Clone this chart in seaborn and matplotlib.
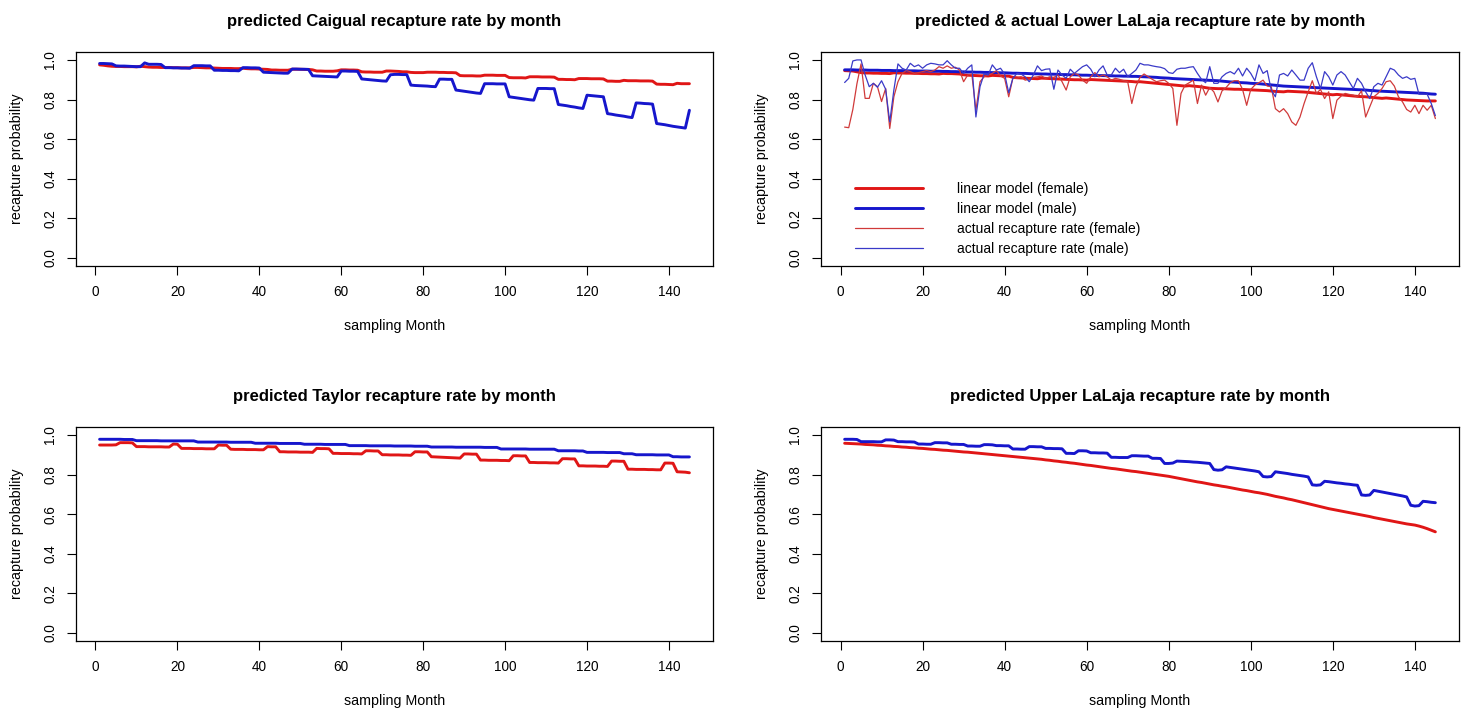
import matplotlib
matplotlib.use("Agg")
import matplotlib.pyplot as plt
import seaborn as sns
import pandas as pd
from matplotlib.lines import Line2D

months = list(range(1, 146))

caigual_female = [
    0.975, 0.973, 0.970, 0.968,
    0.967, 0.967, 0.966, 0.966, 0.966, 0.965, 0.968, 0.966,
    0.964, 0.963, 0.963, 0.962, 0.962, 0.962, 0.961, 0.961, 0.960, 0.960, 0.960, 0.962, 0.962, 0.961, 0.960, 0.960, 0.959,
    0.958, 0.957, 0.957, 0.957, 0.956, 0.956, 0.958,
    0.956, 0.955, 0.955, 0.954, 0.953, 0.952,
    0.949, 0.949, 0.948, 0.948, 0.948,
    0.953, 0.953, 0.953, 0.952, 0.952, 0.950,
    0.944, 0.944, 0.943, 0.943, 0.943, 0.945,
    0.950, 0.950, 0.949, 0.949, 0.948, 0.940,
    0.939, 0.939, 0.938, 0.938, 0.938,
    0.944, 0.944, 0.943, 0.942,
    0.940, 0.940, 0.937, 0.936,
    0.936, 0.936, 0.938, 0.938, 0.938, 0.937, 0.937, 0.936, 0.936, 0.935,
    0.921, 0.920, 0.920, 0.920, 0.919, 0.919,
    0.923, 0.923, 0.923, 0.922, 0.922, 0.922,
    0.911, 0.910, 0.910, 0.910, 0.909,
    0.915, 0.915, 0.915, 0.914, 0.914, 0.914, 0.913,
    0.902, 0.902, 0.901, 0.901, 0.900,
    0.906, 0.906, 0.906, 0.905, 0.905, 0.905, 0.904,
    0.893, 0.893, 0.892, 0.892, 0.897, 0.895,
    0.895, 0.895, 0.894, 0.894, 0.894, 0.893,
    0.878, 0.877, 0.877, 0.876, 0.875,
    0.882, 0.880, 0.880, 0.880,
]

caigual_male = [
    0.982, 0.982, 0.981, 0.980,
    0.970, 0.969, 0.969, 0.968, 0.967,
    0.966, 0.966, 0.985,
    0.978, 0.978, 0.978, 0.977,
    0.961, 0.961, 0.960, 0.960, 0.959, 0.959, 0.958,
    0.971, 0.971, 0.971, 0.970, 0.970,
    0.948, 0.948, 0.947, 0.947, 0.946, 0.946, 0.945,
    0.961, 0.961, 0.960, 0.960, 0.959,
    0.938, 0.937, 0.936, 0.935, 0.934, 0.933, 0.933,
    0.954, 0.954, 0.953, 0.953, 0.952,
    0.920, 0.919, 0.918, 0.917, 0.916, 0.915, 0.914,
    0.944, 0.944, 0.943, 0.943, 0.942,
    0.904, 0.902, 0.900, 0.898, 0.896, 0.894, 0.893,
    0.925, 0.927, 0.927, 0.926, 0.926,
    0.873, 0.871, 0.870, 0.869, 0.868, 0.866, 0.865,
    0.903, 0.903, 0.902, 0.902,
    0.848, 0.845, 0.842, 0.839, 0.836, 0.833, 0.831,
    0.880, 0.880, 0.880, 0.879, 0.879, 0.879,
    0.814, 0.811, 0.808, 0.805, 0.802, 0.799, 0.797,
    0.856, 0.856, 0.856, 0.855, 0.855,
    0.775, 0.772, 0.769, 0.765, 0.762, 0.758, 0.755,
    0.822, 0.820, 0.818, 0.816, 0.814,
    0.729, 0.726, 0.722, 0.719, 0.716, 0.712, 0.709,
    0.783, 0.782, 0.780, 0.779, 0.777,
    0.679, 0.676, 0.673, 0.669, 0.665, 0.662, 0.659, 0.656,
    0.746,
]

lower_female_model = [
    0.946, 0.945, 0.944, 0.940, 0.936, 0.934, 0.934, 0.933, 0.933, 0.932, 0.932, 0.931,
    0.935, 0.934, 0.934, 0.933, 0.933, 0.932, 0.932, 0.931, 0.931, 0.930, 0.930, 0.929,
    0.932, 0.931, 0.931, 0.930, 0.929, 0.925, 0.923, 0.922, 0.921, 0.920, 0.920, 0.919,
    0.922, 0.921, 0.920, 0.919, 0.918, 0.912, 0.910, 0.909, 0.908, 0.907, 0.906, 0.905,
    0.908, 0.907, 0.906, 0.905, 0.904, 0.903, 0.902, 0.901, 0.900, 0.900, 0.899, 0.898,
    0.901, 0.900, 0.899, 0.898, 0.897, 0.896, 0.895, 0.894, 0.893, 0.892, 0.891, 0.889,
    0.890, 0.888, 0.886, 0.884, 0.882, 0.880, 0.878, 0.876, 0.874, 0.872, 0.870, 0.868,
    0.870, 0.868, 0.866, 0.864, 0.860, 0.857, 0.856, 0.855, 0.855, 0.854, 0.853, 0.852,
    0.852, 0.851, 0.850, 0.849, 0.848, 0.847, 0.846, 0.845, 0.843, 0.841, 0.840, 0.839,
    0.842, 0.841, 0.840, 0.839, 0.838, 0.836, 0.834, 0.832, 0.830, 0.828, 0.826, 0.824,
    0.826, 0.824, 0.822, 0.820, 0.818, 0.816, 0.815, 0.814, 0.812, 0.810, 0.808, 0.806,
    0.808, 0.806, 0.804, 0.802, 0.800, 0.798, 0.797, 0.796, 0.795, 0.794, 0.793, 0.793, 0.793,
]

lower_male_model = [
    0.950, 0.950, 0.950, 0.949, 0.949, 0.949, 0.948, 0.948, 0.948, 0.947, 0.947, 0.947,
    0.946, 0.946, 0.946, 0.945, 0.945, 0.945, 0.944, 0.944, 0.944, 0.943, 0.943, 0.943,
    0.942, 0.942, 0.941, 0.941, 0.940, 0.940, 0.939, 0.939, 0.938, 0.938, 0.937, 0.937,
    0.936, 0.936, 0.935, 0.935, 0.934, 0.933, 0.933, 0.932, 0.932, 0.931, 0.930, 0.930,
    0.929, 0.929, 0.928, 0.928, 0.927, 0.926, 0.926, 0.925, 0.925, 0.924, 0.923, 0.923,
    0.922, 0.922, 0.921, 0.921, 0.920, 0.920, 0.919, 0.919, 0.918, 0.918, 0.917, 0.917,
    0.916, 0.915, 0.914, 0.913, 0.912, 0.910, 0.909, 0.908, 0.906, 0.905, 0.904, 0.903,
    0.902, 0.901, 0.900, 0.899, 0.898, 0.897, 0.896, 0.895, 0.893, 0.891, 0.889, 0.888,
    0.886, 0.885, 0.884, 0.882, 0.881, 0.880, 0.878, 0.876, 0.874, 0.872, 0.870, 0.868,
    0.867, 0.866, 0.865, 0.864, 0.863, 0.862, 0.861, 0.860, 0.859, 0.858, 0.857, 0.856,
    0.855, 0.854, 0.853, 0.852, 0.851, 0.850, 0.849, 0.848, 0.846, 0.845, 0.843, 0.842,
    0.841, 0.840, 0.839, 0.838, 0.837, 0.836, 0.835, 0.834, 0.833, 0.832, 0.830, 0.828, 0.827,
]

lower_female_actual = [
    0.661, 0.658, 0.750, 0.880, 0.980, 0.806, 0.806, 0.882, 0.865, 0.790, 0.856, 0.654,
    0.814, 0.890, 0.932, 0.946, 0.941, 0.932, 0.936, 0.941, 0.946, 0.941, 0.949, 0.966,
    0.958, 0.970, 0.958, 0.963, 0.949, 0.890, 0.924, 0.929, 0.746, 0.890, 0.915, 0.924,
    0.932, 0.946, 0.919, 0.907, 0.814, 0.907, 0.907, 0.915, 0.898, 0.902, 0.912, 0.915,
    0.919, 0.907, 0.915, 0.912, 0.924, 0.890, 0.848, 0.915, 0.932, 0.924, 0.898, 0.882,
    0.915, 0.936, 0.915, 0.924, 0.915, 0.898, 0.907, 0.902, 0.895, 0.890, 0.780, 0.865,
    0.912, 0.929, 0.915, 0.902, 0.890, 0.895, 0.898, 0.882, 0.856, 0.670, 0.831, 0.873,
    0.885, 0.898, 0.780, 0.873, 0.822, 0.861, 0.839, 0.788, 0.844, 0.861, 0.885, 0.895,
    0.895, 0.851, 0.771, 0.851, 0.873, 0.885, 0.898, 0.868, 0.865, 0.754, 0.737, 0.754,
    0.729, 0.687, 0.670, 0.712, 0.780, 0.839, 0.895, 0.831, 0.851, 0.805, 0.839, 0.704,
    0.797, 0.817, 0.831, 0.826, 0.822, 0.814, 0.844, 0.712, 0.763, 0.814, 0.831, 0.856,
    0.890, 0.895, 0.868, 0.814, 0.788, 0.750, 0.737, 0.771, 0.729, 0.771, 0.746, 0.771, 0.704,
]

lower_male_actual = [
    0.886, 0.907, 0.995, 1.000, 1.000, 0.924, 0.865, 0.882, 0.862, 0.895, 0.852, 0.687,
    0.848, 0.980, 0.958, 0.949, 0.983, 0.966, 0.975, 0.958, 0.975, 0.983, 0.980, 0.975,
    0.975, 0.996, 0.975, 0.958, 0.958, 0.932, 0.958, 0.975, 0.712, 0.865, 0.929, 0.924,
    0.975, 0.949, 0.958, 0.929, 0.834, 0.907, 0.932, 0.929, 0.915, 0.890, 0.924, 0.970,
    0.946, 0.953, 0.955, 0.852, 0.949, 0.924, 0.907, 0.953, 0.932, 0.949, 0.966, 0.975,
    0.953, 0.915, 0.949, 0.970, 0.924, 0.924, 0.958, 0.936, 0.953, 0.915, 0.932, 0.949,
    0.983, 0.975, 0.975, 0.970, 0.966, 0.963, 0.956, 0.936, 0.932, 0.953, 0.958, 0.958,
    0.963, 0.966, 0.932, 0.902, 0.885, 0.966, 0.882, 0.882, 0.915, 0.932, 0.941, 0.929,
    0.958, 0.919, 0.958, 0.932, 0.895, 0.975, 0.932, 0.946, 0.848, 0.814, 0.924, 0.932,
    0.919, 0.949, 0.924, 0.898, 0.898, 0.958, 0.986, 0.915, 0.856, 0.941, 0.915, 0.873,
    0.924, 0.941, 0.924, 0.890, 0.856, 0.907, 0.882, 0.839, 0.805, 0.865, 0.882, 0.873,
    0.915, 0.958, 0.949, 0.924, 0.907, 0.915, 0.902, 0.907, 0.827, 0.827, 0.827, 0.780, 0.719,
]

taylor_female = [
    0.949, 0.949, 0.949, 0.949, 0.950,
    0.961, 0.961, 0.961, 0.960,
    0.941, 0.941, 0.941, 0.940, 0.940, 0.940, 0.940, 0.939, 0.939,
    0.954, 0.953,
    0.932, 0.932, 0.932, 0.931, 0.931, 0.931, 0.930, 0.930, 0.930,
    0.949, 0.948, 0.948,
    0.928, 0.927, 0.927, 0.927, 0.926, 0.926, 0.926, 0.925, 0.925,
    0.941, 0.940, 0.940,
    0.915, 0.915, 0.914, 0.914, 0.914, 0.913, 0.913, 0.913, 0.912,
    0.932, 0.931, 0.931, 0.930,
    0.907, 0.907, 0.906, 0.906, 0.906, 0.905, 0.905, 0.904,
    0.920, 0.920, 0.919, 0.919,
    0.900, 0.900, 0.899, 0.899, 0.899, 0.898, 0.898, 0.897,
    0.915, 0.915, 0.914, 0.914,
    0.890, 0.889, 0.888, 0.887, 0.886, 0.885, 0.884, 0.883,
    0.904, 0.904, 0.903, 0.903,
    0.873, 0.873, 0.872, 0.872, 0.872, 0.871, 0.871, 0.870,
    0.895, 0.895, 0.894, 0.894,
    0.861, 0.861, 0.860, 0.860, 0.860, 0.859, 0.859, 0.858,
    0.880, 0.880, 0.879, 0.879,
    0.844, 0.844, 0.843, 0.843, 0.843, 0.842, 0.842, 0.841,
    0.868, 0.868, 0.867, 0.867,
    0.827, 0.827, 0.826, 0.826, 0.826, 0.825, 0.825, 0.824, 0.824,
    0.858, 0.858, 0.857,
    0.814, 0.813, 0.812, 0.809,
]

taylor_male = [
    0.978, 0.978, 0.978, 0.978, 0.978, 0.978, 0.977, 0.977, 0.977,
    0.971, 0.971, 0.971, 0.971, 0.971, 0.971, 0.970, 0.970, 0.970, 0.970, 0.970, 0.970, 0.970, 0.970, 0.970,
    0.964, 0.964, 0.964, 0.964, 0.964, 0.964, 0.964, 0.964, 0.963, 0.963, 0.963, 0.963, 0.963, 0.963,
    0.958, 0.958, 0.958, 0.958, 0.958, 0.958, 0.957, 0.957, 0.957, 0.957, 0.957, 0.957,
    0.953, 0.953, 0.953, 0.953, 0.953, 0.952, 0.952, 0.952, 0.952, 0.952, 0.952,
    0.946, 0.946, 0.946, 0.946, 0.946, 0.945, 0.945, 0.945, 0.945, 0.945, 0.945,
    0.944, 0.944, 0.944, 0.944, 0.944, 0.943, 0.943, 0.943, 0.943,
    0.939, 0.939, 0.939, 0.939, 0.939, 0.939, 0.938, 0.938, 0.938, 0.938, 0.938, 0.938, 0.938, 0.937, 0.937, 0.937, 0.937,
    0.929, 0.929, 0.929, 0.929, 0.929, 0.929, 0.929, 0.928, 0.928, 0.928, 0.928, 0.928, 0.928, 0.928,
    0.920, 0.920, 0.920, 0.920, 0.920, 0.919, 0.919,
    0.912, 0.912, 0.912, 0.912, 0.912, 0.911, 0.911, 0.911, 0.911,
    0.905, 0.905, 0.905,
    0.900, 0.900, 0.900, 0.900, 0.900, 0.899, 0.899, 0.899, 0.899,
    0.890, 0.890, 0.889, 0.889, 0.889,
]

upper_female = [
    0.958, 0.957, 0.956, 0.955, 0.954, 0.952, 0.951, 0.950, 0.948, 0.947, 0.945, 0.944,
    0.942, 0.941, 0.939, 0.938, 0.936, 0.935, 0.933, 0.932, 0.930, 0.928, 0.927, 0.925,
    0.923, 0.922, 0.920, 0.918, 0.916, 0.914, 0.913, 0.911, 0.909, 0.907, 0.905, 0.903,
    0.901, 0.899, 0.897, 0.895, 0.893, 0.891, 0.889, 0.887, 0.885, 0.883, 0.881, 0.879,
    0.877, 0.874, 0.872, 0.869, 0.867, 0.864, 0.862, 0.859, 0.857, 0.854, 0.851, 0.848,
    0.846, 0.843, 0.840, 0.837, 0.834, 0.831, 0.829, 0.826, 0.823, 0.820, 0.817, 0.815,
    0.812, 0.809, 0.806, 0.803, 0.800, 0.797, 0.794, 0.791, 0.787, 0.783, 0.779, 0.775,
    0.771, 0.767, 0.763, 0.760, 0.756, 0.752, 0.748, 0.745, 0.741, 0.738, 0.734, 0.730,
    0.726, 0.722, 0.719, 0.715, 0.711, 0.708, 0.704, 0.700, 0.695, 0.690, 0.686, 0.682,
    0.677, 0.673, 0.668, 0.663, 0.658, 0.653, 0.648, 0.643, 0.638, 0.633, 0.628, 0.624,
    0.620, 0.616, 0.612, 0.608, 0.604, 0.600, 0.596, 0.592, 0.588, 0.583, 0.579, 0.575,
    0.571, 0.567, 0.563, 0.559, 0.555, 0.551, 0.548, 0.545, 0.540, 0.534, 0.527, 0.519, 0.511,
]

upper_male = [
    0.978, 0.978, 0.978, 0.977,
    0.966, 0.966, 0.966, 0.966, 0.965, 0.965,
    0.975, 0.975, 0.974,
    0.966, 0.966, 0.965, 0.965, 0.964,
    0.954, 0.954, 0.953, 0.953,
    0.961, 0.961, 0.960, 0.960,
    0.953, 0.953, 0.952, 0.952,
    0.944, 0.944, 0.943, 0.943,
    0.951, 0.951, 0.950,
    0.946, 0.946, 0.945, 0.945,
    0.929, 0.929, 0.928, 0.928,
    0.941, 0.941, 0.940, 0.940,
    0.932, 0.932, 0.931, 0.931, 0.930,
    0.907, 0.907, 0.906,
    0.920, 0.920, 0.919,
    0.910, 0.910, 0.909, 0.909, 0.908,
    0.887, 0.887, 0.886, 0.886, 0.886,
    0.895, 0.895, 0.894,
    0.893, 0.893,
    0.882, 0.882, 0.881,
    0.856, 0.856, 0.858,
    0.868, 0.867, 0.866, 0.865, 0.863, 0.862, 0.860, 0.858, 0.856,
    0.825, 0.822, 0.824,
    0.839, 0.836, 0.833, 0.830, 0.827, 0.824, 0.821, 0.818, 0.814,
    0.790, 0.788, 0.790,
    0.814, 0.811, 0.808, 0.805, 0.801, 0.798, 0.795, 0.792, 0.788,
    0.748, 0.746, 0.748,
    0.766, 0.764, 0.761, 0.758, 0.756, 0.753, 0.751, 0.748, 0.746,
    0.697, 0.695, 0.697,
    0.720, 0.716, 0.712, 0.708, 0.704, 0.700, 0.696, 0.692, 0.687,
    0.645, 0.641, 0.643,
    0.665, 0.663, 0.660, 0.658,
]

x_ticks = [0, 20, 40, 60, 80, 100, 120, 140]
y_ticks = [0.0, 0.2, 0.4, 0.6, 0.8, 1.0]
y_tick_labels = ["0.0", "0.2", "0.4", "0.6", "0.8", "1.0"]
titles = [
    "predicted Caigual recapture rate by month",
    "predicted & actual Lower LaLaja recapture rate by month",
    "predicted Taylor recapture rate by month",
    "predicted Upper LaLaja recapture rate by month",
]
legend_labels = [
    "linear model (female)",
    "linear model (male)",
    "actual recapture rate (female)",
    "actual recapture rate (male)",
]

RED = "#e01616"
BLUE = "#1616cc"
RED_THIN = "#d03a3a"
BLUE_THIN = "#3a3ac8"
THICK = 2.1
THIN = 0.9

sns.set_theme(style="white")
plt.rcParams["font.family"] = ["Liberation Sans", "DejaVu Sans"]
plt.rcParams["text.color"] = "black"
plt.rcParams["axes.labelcolor"] = "black"
plt.rcParams["xtick.color"] = "black"
plt.rcParams["ytick.color"] = "black"

W, H = 1466, 713
fig = plt.figure(figsize=(W / 100, H / 100), dpi=100)
fig.patch.set_facecolor("white")


def make_ax(left, top, right, bottom):
    return fig.add_axes([left / W, 1 - bottom / H, (right - left) / W, (bottom - top) / H])


def line(ax, values, color, lw):
    df = pd.DataFrame({"month": months, "p": values})
    sns.lineplot(data=df, x="month", y="p", ax=ax, color=color, linewidth=lw,
                 estimator=None, legend=False)


def style(ax, title):
    ax.set_xlim(-4.76, 150.76)
    ax.set_ylim(-0.04, 1.04)
    ax.set_xticks(x_ticks)
    ax.set_xticklabels([str(t) for t in x_ticks])
    ax.set_yticks(y_ticks)
    ax.set_yticklabels(y_tick_labels, rotation=90, va="center")
    ax.tick_params(axis="both", direction="out", length=6.5, width=0.8, pad=7,
                   labelsize=9.8, colors="black", labelcolor="black",
                   bottom=True, left=True)
    for s in ax.spines.values():
        s.set_visible(True)
        s.set_color("black")
        s.set_linewidth(0.9)
    ax.set_facecolor("white")
    ax.grid(False)
    ax.set_title(title, fontsize=12, fontweight="bold", pad=19, color="black")
    ax.set_xlabel("sampling Month", fontsize=10.3, color="black")
    ax.set_ylabel("recapture probability", fontsize=10.3, color="black")
    ax.xaxis.set_label_coords(0.5, -60 / 214)
    ax.xaxis.label.set_va("center")
    ax.yaxis.set_label_coords(-59 / 637, 0.5)
    ax.yaxis.label.set_va("center")


ax1 = make_ax(76, 52, 713, 266)
ax2 = make_ax(821, 52, 1459, 266)
ax3 = make_ax(76, 427, 713, 641)
ax4 = make_ax(821, 427, 1459, 641)

line(ax1, caigual_female, RED, THICK)
line(ax1, caigual_male, BLUE, THICK)

line(ax2, lower_female_model, RED, THICK)
line(ax2, lower_male_model, BLUE, THICK)
line(ax2, lower_female_actual, RED_THIN, THIN)
line(ax2, lower_male_actual, BLUE_THIN, THIN)

line(ax3, taylor_female, RED, THICK)
line(ax3, taylor_male, BLUE, THICK)

line(ax4, upper_female, RED, THICK)
line(ax4, upper_male, BLUE, THICK)

for ax, t in zip([ax1, ax2, ax3, ax4], titles):
    style(ax, t)

handles = [
    Line2D([], [], color=RED, lw=THICK),
    Line2D([], [], color=BLUE, lw=THICK),
    Line2D([], [], color=RED_THIN, lw=THIN),
    Line2D([], [], color=BLUE_THIN, lw=THIN),
]
leg = ax2.legend(handles, legend_labels, loc="upper left", bbox_to_anchor=(0.053, 0.391),
                 frameon=False, fontsize=10, handlelength=4.9, handletextpad=2.45,
                 labelspacing=0.43, borderaxespad=0, borderpad=0)
for txt in leg.get_texts():
    txt.set_color("black")

fig.savefig("out.png", dpi=100, facecolor="white")
